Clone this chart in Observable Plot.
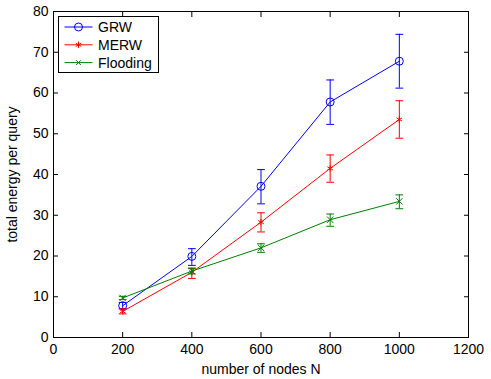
<!DOCTYPE html>
<html>
<head>
<meta charset="utf-8">
<script src="https://cdn.jsdelivr.net/npm/d3@7"></script>
<script src="https://cdn.jsdelivr.net/npm/@observablehq/plot@0.6"></script>
<style>
  html, body { margin: 0; padding: 0; background: #fff; }
  #chart { position: relative; width: 491px; height: 379px; }
</style>
</head>
<body>
<div id="chart"></div>
<script>
const nodes = [200, 400, 600, 800, 1000];
const seriesNames = ["GRW", "MERW", "Flooding"];
const seriesColors = ["#0000ff", "#ff0000", "#008000"];
const seriesSymbols = ["circle", "asterisk", "times"];

const grwMean = [7.8, 19.9, 37.1, 57.8, 67.8];
const grwLow  = [7.1, 17.7, 32.8, 52.3, 61.2];
const grwHigh = [8.6, 21.8, 41.2, 63.2, 74.4];

const merwMean = [6.4, 16.0, 28.3, 41.5, 53.5];
const merwLow  = [5.8, 14.5, 25.9, 38.1, 48.9];
const merwHigh = [7.0, 17.0, 30.6, 44.8, 58.1];

const floodMean = [9.7, 16.3, 22.0, 28.9, 33.4];
const floodLow  = [9.3, 15.6, 20.9, 27.3, 31.6];
const floodHigh = [10.1, 17.0, 23.0, 30.3, 35.0];

const xTicks = [0, 200, 400, 600, 800, 1000, 1200];
const yTicks = [0, 10, 20, 30, 40, 50, 60, 70, 80];

const xLabel = "number of nodes N";
const yLabel = "total energy per query";

const means = [grwMean, merwMean, floodMean];
const lows = [grwLow, merwLow, floodLow];
const highs = [grwHigh, merwHigh, floodHigh];

const data = [];
seriesNames.forEach((s, i) => {
  nodes.forEach((n, j) => {
    data.push({series: s, n, y: means[i][j], lo: lows[i][j], hi: highs[i][j]});
  });
});

const capShape = {draw(ctx, l) { ctx.moveTo(0, 0); ctx.lineTo(0, -l); }};
const font = "'Liberation Sans', Arial, Helvetica, sans-serif";

const marks = [];
seriesNames.forEach((s, i) => {
  const d = data.filter(r => r.series === s);
  const c = seriesColors[i];
  marks.push(Plot.line(d, {x: "n", y: "y", stroke: c, strokeWidth: 1}));
  marks.push(Plot.ruleX(d, {x: "n", y1: "lo", y2: "hi", stroke: c, strokeWidth: 1}));
  marks.push(Plot.vector(d, {x: "n", y: "lo", rotate: 90, length: 7, anchor: "middle", shape: capShape, stroke: c, strokeWidth: 1}));
  marks.push(Plot.vector(d, {x: "n", y: "hi", rotate: 90, length: 7, anchor: "middle", shape: capShape, stroke: c, strokeWidth: 1}));
  marks.push(Plot.dot(d, {x: "n", y: "y", symbol: seriesSymbols[i], stroke: c, fill: "none", strokeWidth: 1, r: i === 0 ? 4 : 3}));
});

const fmt = d3.format("d");

const plot = Plot.plot({
  width: 491,
  height: 379,
  marginLeft: 53,
  marginRight: 23,
  marginTop: 11,
  marginBottom: 42,
  style: {fontSize: "14px", fontFamily: font, background: "#fff", color: "#000"},
  x: {domain: [0, 1200]},
  y: {domain: [0, 80]},
  marks: [
    Plot.axisX(xTicks, {anchor: "bottom", tickSize: -5, tickPadding: 12, tickFormat: fmt, label: xLabel, labelAnchor: "center", labelOffset: 36, labelArrow: "none", fontSize: 14}),
    Plot.axisX(xTicks, {anchor: "top", tickSize: -5, tickFormat: () => "", label: null}),
    Plot.axisY(yTicks, {anchor: "left", tickSize: -5, tickPadding: 10, tickFormat: fmt, label: yLabel, labelAnchor: "center", labelOffset: 46, labelArrow: "none", fontSize: 14}),
    Plot.axisY(yTicks, {anchor: "right", tickSize: -5, tickFormat: () => "", label: null}),
    ...marks,
    Plot.frame({stroke: "#000", strokeWidth: 1})
  ]
});

document.getElementById("chart").appendChild(plot);

// Legend (MATLAB-style box, top-left inside axes)
const svg = d3.select(plot);
const lg = svg.append("g").attr("transform", "translate(58.5,16.5)");
lg.append("rect").attr("width", 100).attr("height", 56).attr("fill", "#fff").attr("stroke", "#000").attr("stroke-width", 1);
seriesNames.forEach((s, i) => {
  const yy = 10.5 + i * 17.8;
  const c = seriesColors[i];
  lg.append("line").attr("x1", 6).attr("x2", 34).attr("y1", yy).attr("y2", yy).attr("stroke", c).attr("stroke-width", 1);
  let path;
  if (i === 0) path = d3.symbol(d3.symbolCircle, 50)();
  else if (i === 1) path = d3.symbol(d3.symbolAsterisk, 28)();
  else path = d3.symbol(d3.symbolTimes, 16)();
  lg.append("path").attr("d", path).attr("transform", `translate(20,${yy})`).attr("fill", "none").attr("stroke", c).attr("stroke-width", 1);
  lg.append("text").attr("x", 39.5).attr("y", yy).attr("dy", "0.36em").attr("text-anchor", "start").attr("font-size", 14).attr("font-family", font).attr("fill", "#000").text(s);
});
</script>
</body>
</html>
